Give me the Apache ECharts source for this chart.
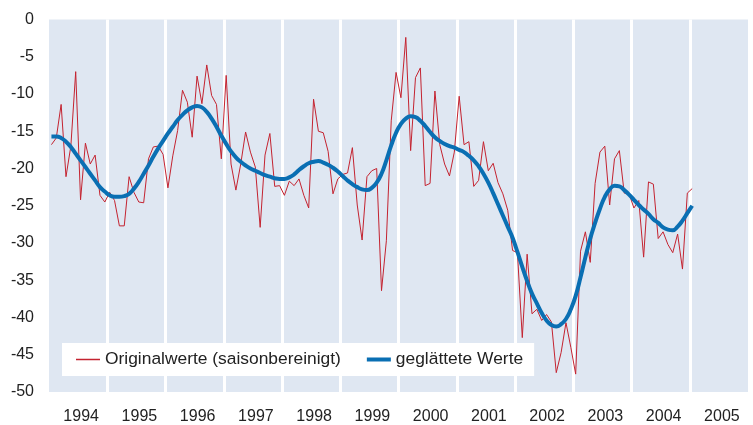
<!DOCTYPE html>
<html>
<head>
<meta charset="utf-8">
<script src="https://cdn.jsdelivr.net/npm/echarts@6/dist/echarts.min.js"></script>
<style>
  html, body { margin: 0; padding: 0; background: #fff; }
  #chart { width: 753px; height: 425px; }
</style>
</head>
<body>
<div id="chart"></div>
<script>
// Jahre (Beschriftung der x-Achse)
const years = ['1994', '1995', '1996', '1997', '1998', '1999', '2000', '2001', '2002', '2003', '2004', '2005'];
const yTicks = [0, -5, -10, -15, -20, -25, -30, -35, -40, -45, -50];

// Originalwerte (saisonbereinigt), monatlich ab Jan 1994
const original = [
  -16.8, -15.9, -11.4, -21.1, -17.0, -7.0, -24.2, -16.6, -19.4, -18.2, -23.6, -24.5,
  -23.2, -24.3, -27.7, -27.7, -21.1, -23.2, -24.5, -24.6, -18.7, -17.1, -17.0, -18.1,
  -22.6, -18.3, -14.9, -9.5, -11.1, -15.8, -7.6, -11.3, -6.1, -10.2, -11.4, -18.7,
  -7.5, -19.4, -22.9, -19.4, -15.1, -17.8, -19.8, -27.9, -18.2, -15.3, -22.4, -22.3,
  -23.6, -21.7, -22.3, -21.4, -23.6, -25.3, -10.7, -15.0, -15.2, -17.7, -23.4, -21.4,
  -20.8, -20.6, -17.2, -24.9, -29.6, -21.1, -20.3, -20.0, -36.4, -29.7, -13.6, -7.1,
  -10.5, -2.4, -17.6, -7.8, -6.5, -22.3, -22.0, -9.6, -16.8, -19.4, -21.0, -17.8,
  -10.3, -16.8, -16.4, -22.4, -21.6, -16.4, -20.3, -19.3, -21.9, -23.4, -25.6, -31.0,
  -31.3, -42.7, -31.5, -39.5, -38.9, -40.4, -39.6, -40.6, -47.4, -44.7, -40.7, -44.0,
  -47.6, -31.1, -28.5, -32.6, -22.0, -17.8, -17.0, -24.9, -18.7, -17.6, -23.3, -23.4,
  -25.3, -24.3, -31.9, -21.8, -22.1, -29.4, -28.5, -30.2, -31.3, -28.8, -33.5, -23.3,
  -22.7
];

// geglättete Werte
const smoothed = [
  -15.7, -15.7, -15.9, -16.4, -17.1, -18.0, -18.9, -19.8, -20.7, -21.6, -22.5, -23.1,
  -23.6, -23.8, -23.8, -23.7, -23.4, -22.7, -21.8, -20.7, -19.6, -18.4, -17.3, -16.3,
  -15.3, -14.4, -13.5, -12.8, -12.2, -11.8, -11.6, -11.8, -12.4, -13.3, -14.4, -15.6,
  -16.7, -17.7, -18.5, -19.1, -19.6, -20.0, -20.3, -20.6, -20.9, -21.1, -21.3, -21.4,
  -21.4, -21.2, -20.8, -20.2, -19.7, -19.3, -19.1, -19.0, -19.2, -19.5, -19.9, -20.4,
  -21.0, -21.6, -22.1, -22.5, -22.8, -22.9, -22.6, -21.9, -20.7, -18.9, -16.9, -15.2,
  -14.0, -13.3, -13.0, -13.1, -13.6, -14.3, -15.1, -15.8, -16.3, -16.7, -17.0, -17.2,
  -17.5, -17.8, -18.3, -18.9, -19.7, -20.7, -21.9, -23.3, -24.8, -26.3, -27.8, -29.3,
  -31.2, -33.2, -35.1, -36.8, -38.1, -39.4, -40.4, -41.0, -41.2, -40.9, -40.2, -38.9,
  -37.1, -34.6, -31.9, -29.4, -27.3, -25.4, -23.8, -22.8, -22.3, -22.4, -22.9, -23.5,
  -24.2, -24.9, -25.5, -26.1, -26.8, -27.3, -27.9, -28.2, -28.3, -27.8, -27.0, -26.0,
  -25.0
];

// Monatswerte in der Monatsmitte
const toPoints = arr => arr.map((v, i) => [i + 0.5, v]);

// Legendensymbole: dünne bzw. dicke Linie in einem 24x14-Feld
const thinLine = 'path://M0,0h24v0.01h-24z M0,6.2h24v1.6h-24z M0,13.99h24v0.01h-24z';
const thickLine = 'path://M0,0h24v0.01h-24z M0,5h24v4h-24z M0,13.99h24v0.01h-24z';

const chart = echarts.init(document.getElementById('chart'));
const option = {
  animation: false,
  textStyle: { fontFamily: 'Liberation Sans, Arial, sans-serif', color: '#222' },
  grid: {
    left: 49, right: 5, top: 19.5, bottom: 33,
    show: true, backgroundColor: '#dfe7f2', borderWidth: 0
  },
  legend: {
    left: 62, top: 343,
    padding: [8, 11, 8, 14],
    backgroundColor: '#fff',
    itemWidth: 24, itemHeight: 14, itemGap: 26,
    textStyle: { fontSize: 17.4, color: '#222' },
    data: [
      { name: 'Originalwerte (saisonbereinigt)', icon: thinLine },
      { name: 'geglättete Werte', icon: thickLine }
    ]
  },
  xAxis: [
    {
      type: 'value', min: 0, max: 144, interval: 12,
      axisLine: { show: false }, axisTick: { show: false }, axisLabel: { show: false },
      splitLine: { show: true, showMinLine: false, showMaxLine: false, lineStyle: { color: '#fff', width: 3 } }
    },
    {
      type: 'category', data: years, position: 'bottom', boundaryGap: true,
      axisLine: { show: false }, axisTick: { show: false }, splitLine: { show: false },
      axisLabel: { fontSize: 16, color: '#222', margin: 17, padding: [0, 0, 0, 6] }
    }
  ],
  yAxis: {
    type: 'value', min: -50, max: 0, interval: 5,
    axisLine: { show: false }, axisTick: { show: false }, splitLine: { show: false },
    axisLabel: {
      fontSize: 16, color: '#222', margin: 15,
      formatter: v => yTicks.includes(v) ? String(v) : ''
    }
  },
  series: [
    {
      name: 'Originalwerte (saisonbereinigt)', type: 'line', xAxisIndex: 0,
      data: toPoints(original), symbol: 'none',
      lineStyle: { color: '#c42330', width: 1 }, itemStyle: { color: '#c42330' }
    },
    {
      name: 'geglättete Werte', type: 'line', xAxisIndex: 0,
      data: toPoints(smoothed), symbol: 'none', smooth: true,
      lineStyle: { color: '#0a6fb3', width: 4 }, itemStyle: { color: '#0a6fb3' }
    }
  ]
};
chart.setOption(option);
</script>
</body>
</html>
